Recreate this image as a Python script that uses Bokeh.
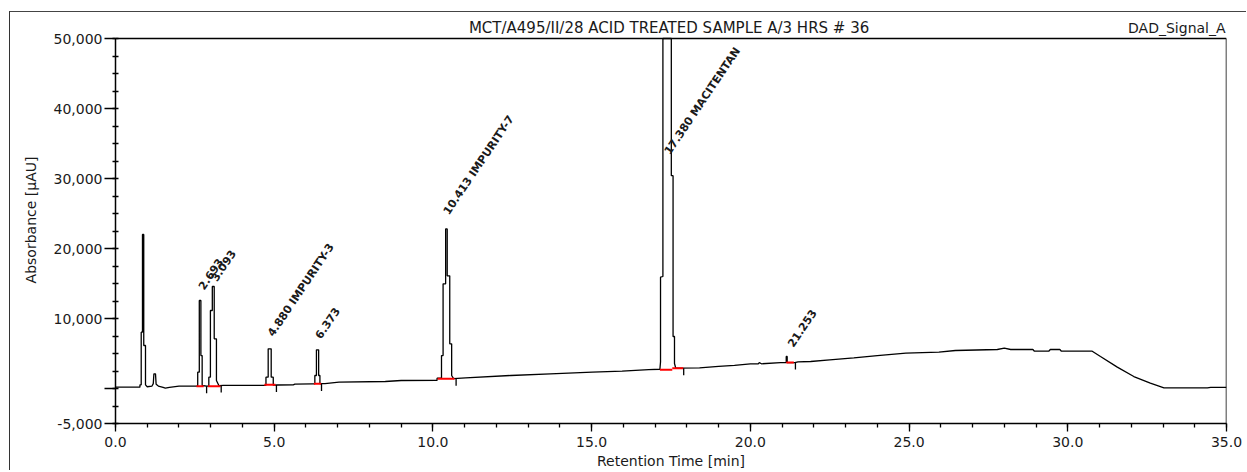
from bokeh.plotting import figure
from bokeh.models import Range1d, FixedTicker, NumeralTickFormatter, Label, ColumnDataSource
from bokeh.embed import file_html
from bokeh.resources import INLINE
from bokeh.core.properties import value

# ---- chromatogram trace ----
time_min = [0.00, 0.77, 0.77, 0.81, 0.81, 0.85, 0.85, 0.89, 0.89, 0.945, 0.945, 1.00,
            1.15, 1.19, 1.21, 1.26, 1.28, 1.35, 1.50, 1.57, 1.70, 2.00,
            2.55, 2.59, 2.59, 2.64, 2.64, 2.69, 2.69, 2.73, 2.73, 2.87,
            2.91, 2.94, 2.94, 2.99, 2.99, 3.05, 3.05, 3.11, 3.11, 3.18, 3.18, 3.26, 3.40,
            4.70, 4.74, 4.74, 4.81, 4.81, 4.905, 4.905, 4.97, 4.97, 5.10,
            5.60, 5.65, 6.20, 6.25, 6.28, 6.28, 6.33, 6.33, 6.40, 6.40, 6.44, 6.44, 6.60,
            7.04, 8.50, 9.00, 10.13, 10.13, 10.27, 10.27, 10.32, 10.32, 10.40, 10.40,
            10.45, 10.45, 10.53, 10.53, 10.59, 10.59, 10.65,
            11.03, 12.45, 13.70, 15.02, 15.96, 16.80, 17.15, 17.17, 17.17, 17.245, 17.245,
            17.51, 17.51, 17.565, 17.565, 17.61, 17.61, 17.65, 18.40, 19.00, 19.50,
            20.00, 20.25, 20.28, 20.35, 20.95, 21.13, 21.13, 21.16, 21.16, 21.40, 21.50,
            21.90, 22.50, 23.26, 24.00, 24.90, 25.94, 26.46, 27.78, 28.00, 28.20, 28.90,
            28.95, 29.40, 29.45, 29.75, 29.80, 30.77, 31.03, 31.56, 32.08, 32.60, 33.03,
            34.40, 34.50, 35.00]
signal_uau = [190, 190, 520, 520, 8050, 8050, 22000, 22000, 6140, 6140, 520, 250,
              350, 700, 2100, 2100, 600, 350, 150, 50, 150, 330,
              330, 330, 2330, 2330, 12570, 12570, 4710, 4710, 430, 330,
              330, 330, 1620, 1620, 11140, 11140, 14570, 14570, 7100, 7100, 1140, 400, 450,
              450, 450, 1620, 1620, 5670, 5670, 1620, 1620, 480, 500,
              520, 620, 650, 650, 650, 1860, 1860, 5520, 5520, 1860, 1860, 700, 700,
              900, 1000, 1140, 1150, 1470, 1470, 4710, 4710, 14950, 14950, 22800,
              22800, 16100, 16100, 6380, 6380, 1860, 1400,
              1520, 1860, 2100, 2330, 2480, 2710, 2750, 3800, 15900, 16000, 200000,
              200000, 30400, 30400, 7430, 7430, 3570, 2900, 2950, 3150, 3300,
              3530, 3530, 3700, 3530, 3710, 3710, 4570, 4570, 3710, 3710, 3800,
              3860, 4100, 4380, 4710, 5050, 5190, 5430, 5570, 5760, 5570, 5570,
              5330, 5330, 5570, 5570, 5330, 5330, 4570, 3050, 1710, 760, 100,
              100, 150, 150]

# ---- peak annotations ----
peak_rt = [2.693, 3.093, 4.880, 6.373, 10.413, 17.380, 21.253]
peak_names = ["", "", "IMPURITY-3", "", "IMPURITY-7", "MACITENTAN", ""]
label_height = [14300, 15500, 7600, 7300, 25000, 33600, 6100]

# integration baselines (red)
base_t0 = [2.55, 2.91, 4.69, 6.25, 10.15, 17.15, 17.54, 21.13]
base_t1 = [2.78, 3.31, 5.04, 6.48, 10.68, 17.54, 17.89, 21.37]
base_v0 = [330, 330, 520, 670, 1380, 2670, 2900, 3710]
base_v1 = [330, 330, 520, 670, 1380, 2670, 2900, 3710]

# peak delimiters (black ticks)
delim_t = [2.87, 3.33, 5.07, 6.49, 10.73, 17.90, 21.42]
delim_v = [330, 430, 500, 650, 1380, 2900, 3710]

x_major = [0, 5, 10, 15, 20, 25, 30, 35]
x_minor = list(range(0, 36))
y_major = [-5000, 0, 10000, 20000, 30000, 40000, 50000]
y_minor = list(range(-5000, 50001, 2500))

title_text = "MCT/A495/II/28 ACID TREATED SAMPLE A/3 HRS # 36"
signal_text = "DAD_Signal_A"

FONT = "DejaVu Sans"
INK = "#1a1a1a"
TICK_DEPTH = 1000
X_MIN, X_MAX = 0, 35
Y_MIN, Y_MAX = -5000, 50000
PX_PER_UNIT = 385 / (Y_MAX - Y_MIN)          # vertical scale of the plot box
HEADER_PX = 22                                # header strip above the plot box
Y_TOP = Y_MAX + HEADER_PX / PX_PER_UNIT
TITLE_Y = Y_MAX + 11 / PX_PER_UNIT

p = figure(width=1237, height=459, x_range=Range1d(X_MIN, X_MAX), y_range=Range1d(Y_MIN, Y_TOP),
           output_backend="svg", toolbar_location=None,
           min_border_left=105, min_border_right=21, min_border_top=4, min_border_bottom=48,
           styles={"margin-top": "11px", "margin-left": "9px",
                   "border-top": "1px solid #444", "border-left": "1px solid #333"})
p.xgrid.visible = False
p.ygrid.visible = False
p.outline_line_color = None
p.background_fill_color = "white"
p.border_fill_color = "white"

# axes
p.xaxis.ticker = FixedTicker(ticks=x_major, minor_ticks=x_minor)
p.xaxis.formatter = NumeralTickFormatter(format="0.0")
p.xaxis.axis_label = "Retention Time [min]"
p.xaxis.major_tick_out = 8
p.xaxis.major_tick_in = 0
p.xaxis.minor_tick_out = 4
p.xaxis.minor_tick_in = 0
p.xaxis.major_label_standoff = 5
p.xaxis.axis_label_standoff = 3

p.yaxis.ticker = FixedTicker(ticks=y_major, minor_ticks=y_minor)
p.yaxis.formatter = NumeralTickFormatter(format="0,0")
p.yaxis.major_label_overrides = {0: ""}
p.yaxis.axis_label = "Absorbance [µAU]"
p.yaxis.bounds = (Y_MIN, Y_MAX)
p.yaxis.major_tick_out = 11
p.yaxis.major_tick_in = 0
p.yaxis.minor_tick_out = 3
p.yaxis.minor_tick_in = 3
p.yaxis.major_label_standoff = 2
p.yaxis.axis_label_standoff = 12

for ax in (p.xaxis, p.yaxis):
    ax.axis_line_color = "black"
    ax.axis_line_width = 1.5
    ax.major_tick_line_color = "black"
    ax.major_tick_line_width = 1.3
    ax.minor_tick_line_color = "black"
    ax.minor_tick_line_width = 1.3
    ax.major_label_text_font = FONT
    ax.major_label_text_font_size = "14px"
    ax.major_label_text_color = INK
    ax.axis_label_text_font = FONT
    ax.axis_label_text_font_size = "14px"
    ax.axis_label_text_font_style = "normal"
    ax.axis_label_text_color = INK

# plot box: top and right edges
p.segment(x0=[X_MIN, X_MAX], y0=[Y_MAX, Y_MIN], x1=[X_MAX, X_MAX], y1=[Y_MAX, Y_MAX],
          line_color="black", line_width=1.5)

# trace (off-scale apex is cut at the top of the plot box)
p.line(time_min, [min(v, Y_MAX) for v in signal_uau], line_color="black", line_width=1.3)

# integration baselines
p.segment(x0=base_t0, y0=base_v0, x1=base_t1, y1=base_v1, line_color="#ff0000", line_width=2)

# delimiters
p.segment(x0=delim_t, y0=delim_v, x1=delim_t, y1=[v - TICK_DEPTH for v in delim_v],
          line_color="black", line_width=1.3)

# peak labels
labels = [f"{rt:.3f}" + (f" {n}" if n else "") for rt, n in zip(peak_rt, peak_names)]
src = ColumnDataSource(dict(x=peak_rt, y=label_height, text=labels))
p.text(x="x", y="y", text="text", source=src, angle=56, angle_units="deg",
       text_font=value(FONT), text_font_style="bold", text_font_size="11px",
       text_baseline="middle", text_align="left", text_color=INK)

# header texts
p.add_layout(Label(x=17.44, y=TITLE_Y, text=title_text, text_align="center", text_baseline="middle",
                   text_font=FONT, text_font_size="15px", text_color=INK))
p.add_layout(Label(x=34.97, y=TITLE_Y, text=signal_text, text_align="right", text_baseline="middle",
                   text_font=FONT, text_font_size="14px", text_color=INK))

open("out.html", "w").write(file_html(p, INLINE))
